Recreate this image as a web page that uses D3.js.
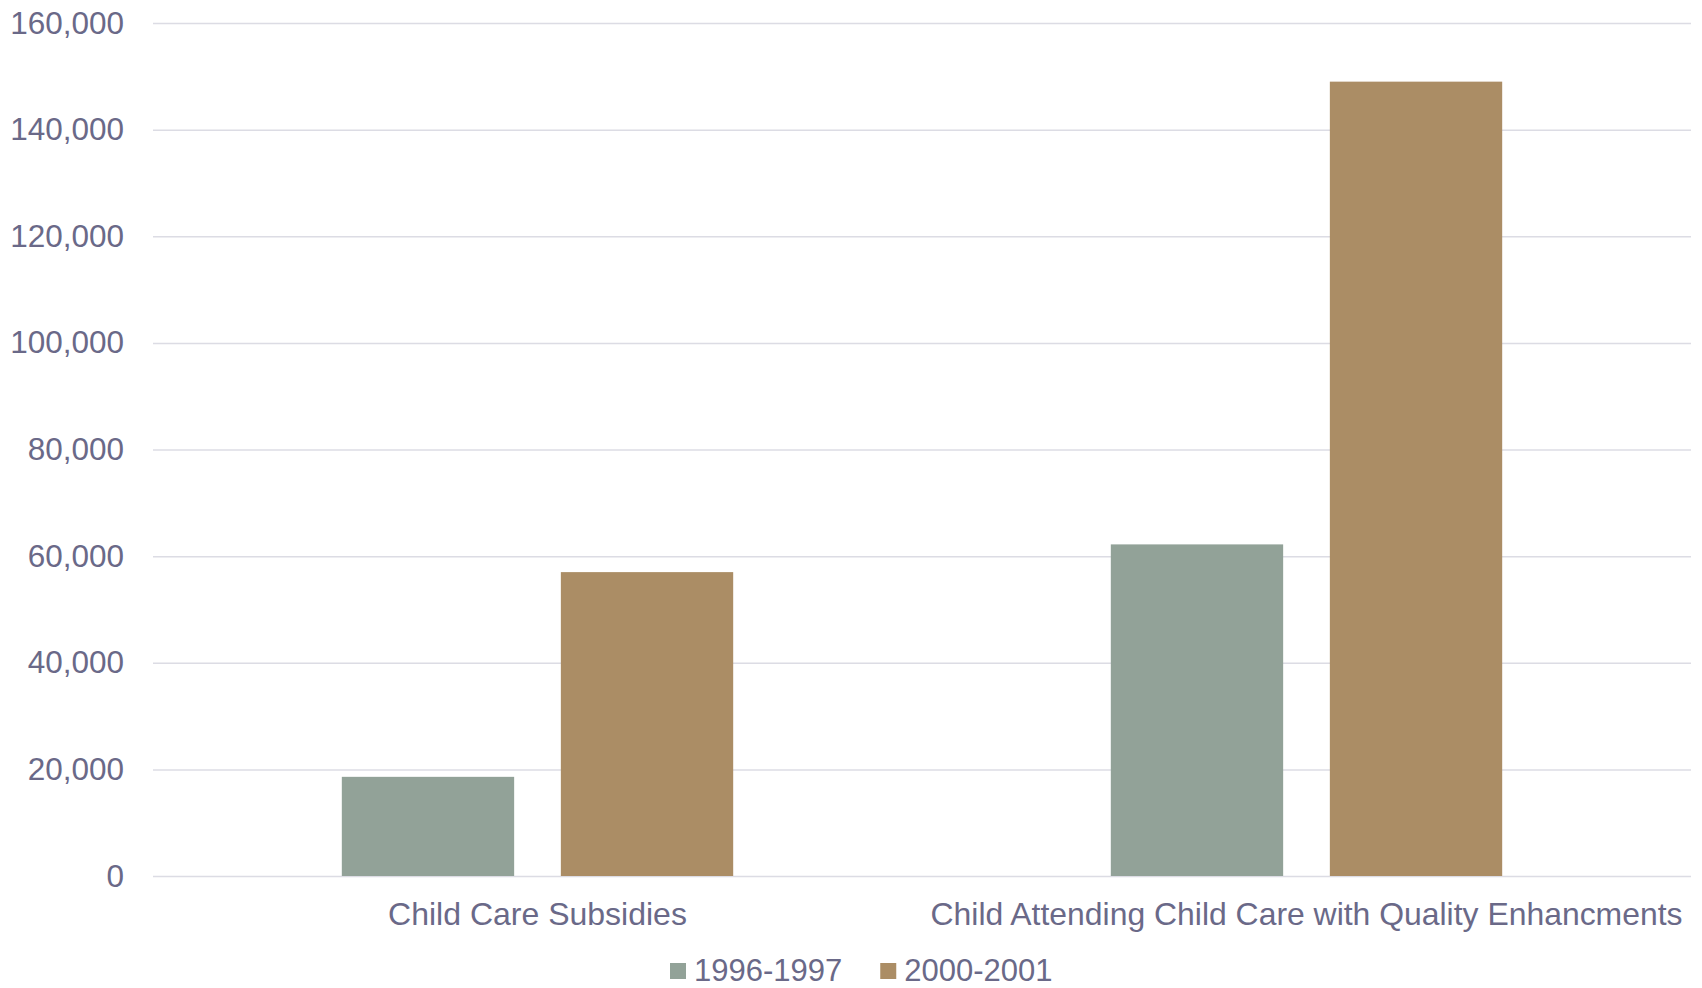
<!DOCTYPE html>
<html>
<head>
<meta charset="utf-8">
<script src="https://cdn.jsdelivr.net/npm/d3@7"></script>
<style>
  html, body { margin: 0; padding: 0; background: #ffffff; }
  svg { display: block; font-family: "Liberation Sans", Arial, sans-serif; }
</style>
</head>
<body>
<svg id="chart" width="1702" height="988"></svg>
<script>
// Chart data
const categories = ["Child Care Subsidies", "Child Attending Child Care with Quality Enhancments"];
const seriesNames = ["1996-1997", "2000-2001"];
const values1996 = [18600, 62200];
const values2000 = [57000, 149000];
const tickValues = [0, 20000, 40000, 60000, 80000, 100000, 120000, 140000, 160000];
const seriesColors = ["#92a298", "#ab8d65"];

const rows = categories.map((c, i) => ({ category: c, values: [values1996[i], values2000[i]] }));

const svg = d3.select("#chart");
const textColor = "#6a6988";
const gridColor = "#dcdce4";

const plot = { left: 153, right: 1691, top: 23, bottom: 876 };

const y = d3.scaleLinear().domain([0, 160000]).range([plot.bottom, plot.top]);
const x0 = d3.scaleBand().domain(categories).range([plot.left, plot.right]).padding(0);
const x1 = d3.scaleBand().domain(seriesNames).range([0, x0.bandwidth()])
  .paddingInner(0.2132).paddingOuter(0.862);

// Gridlines and value labels
const yAxis = d3.axisLeft(y).tickValues(tickValues)
  .tickSize(-(plot.right - plot.left)).tickPadding(29)
  .tickFormat(d3.format(","));
const gy = svg.append("g").attr("transform", `translate(${plot.left},0)`).call(yAxis);
gy.select(".domain").remove();
gy.selectAll(".tick line").attr("stroke", gridColor).attr("stroke-width", 1.5);
gy.selectAll(".tick text").attr("fill", textColor).attr("font-size", 31.5)
  .attr("font-family", "Liberation Sans, Arial, sans-serif");

// Bars
const groups = svg.append("g").selectAll("g").data(rows).join("g")
  .attr("transform", d => `translate(${x0(d.category)},0)`);
groups.selectAll("rect")
  .data(d => d.values.map((v, i) => ({ key: seriesNames[i], value: v, i })))
  .join("rect")
  .attr("x", d => x1(d.key))
  .attr("width", x1.bandwidth())
  .attr("y", d => y(d.value))
  .attr("height", d => y(0) - y(d.value))
  .attr("fill", d => seriesColors[d.i]);

// Category labels
const catLabels = svg.append("g").selectAll("text").data(categories).join("text")
  .attr("x", d => x0(d) + x0.bandwidth() / 2)
  .attr("y", 925)
  .attr("text-anchor", "middle")
  .attr("font-size", 32)
  .attr("fill", textColor)
  .text(d => d);
// The long label is squeezed to fit its band
catLabels.filter((d, i) => i === 1)
  .attr("textLength", 752).attr("lengthAdjust", "spacingAndGlyphs");

// Legend
const legend = svg.append("g");
let lx = 670;
seriesNames.forEach((name, i) => {
  legend.append("rect").attr("x", lx).attr("y", 963).attr("width", 16).attr("height", 16)
    .attr("fill", seriesColors[i]);
  const t = legend.append("text").attr("x", lx + 24).attr("y", 981)
    .attr("font-size", 31).attr("fill", textColor).text(name);
  lx = lx + 24 + t.node().getComputedTextLength() + 38;
});
</script>
</body>
</html>
